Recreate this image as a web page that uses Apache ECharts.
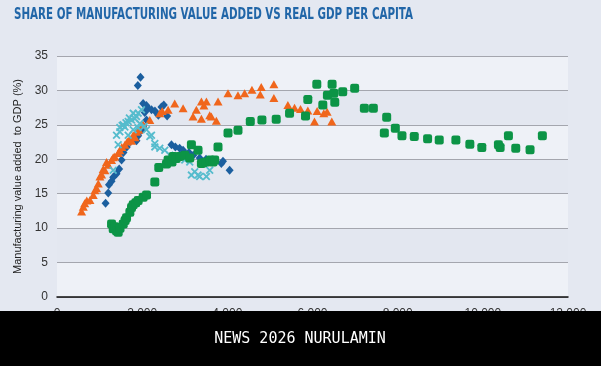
<!DOCTYPE html>
<html>
<head>
<meta charset="utf-8">
<script src="https://cdn.jsdelivr.net/npm/echarts@6/dist/echarts.min.js"></script>
<style>
  html, body { margin: 0; padding: 0; background: #e4e8f1; }
  #chart { width: 601px; height: 366px; }
</style>
</head>
<body>
<div id="chart"></div>
<script>
// ---- Data ----
const titleText = 'SHARE OF MANUFACTURING VALUE ADDED VS REAL GDP PER CAPITA';
const yAxisTitle = 'Manufacturing value added  to GDP (%)';
const footerText = 'NEWS 2026 NURULAMIN';
const xTicks = [0, 2000, 4000, 6000, 8000, 10000, 12000];
const yTicks = [0, 5, 10, 15, 20, 25, 30, 35];

// dark blue diamonds
const seriesDiamond = [
  [1141,13.6],[1203,15.1],[1220,16.3],[1281,16.8],[1320,17.4],[1398,17.9],[1460,18.6],[1516,19.9],
  [1560,21.0],[1640,21.8],[1720,22.6],[1867,22.7],[1906,23.4],[1980,24.2],[2023,24.8],[2102,25.7],
  [2060,26.8],[2140,27.4],[2219,27.2],[2023,28.1],[2100,27.8],[2300,27.0],[2380,26.4],[2453,27.6],
  [2508,27.9],[2586,26.3],[1898,30.7],[1961,31.9],[2688,22.1],[2780,21.8],[2880,21.6],[2961,21.3],
  [3100,21.0],[3200,20.6],[3350,20.2],[3500,20.0],[3650,19.8],[3859,19.4],[3898,19.7],[4054,18.4]
];
// orange triangles
const seriesTriangle = [
  [578,12.4],[617,13.1],[650,13.6],[700,14.0],[773,14.1],[852,14.8],[890,15.5],[930,15.8],
  [969,16.5],[1008,17.5],[1047,17.8],[1086,18.6],[1125,18.4],[1164,19.6],[1203,19.2],[1281,19.9],
  [1320,20.3],[1359,20.4],[1437,20.9],[1476,21.3],[1520,21.8],[1594,22.1],[1650,22.6],[1711,23.0],
  [1750,22.7],[1789,23.5],[1830,23.2],[1867,24.0],[1920,24.3],[2023,25.0],[2180,25.7],[2414,26.7],
  [2470,27.0],[2609,27.2],[2765,28.1],[2961,27.4],[3195,26.2],[3273,27.2],[3391,28.4],[3391,25.9],
  [3450,27.8],[3508,28.4],[3586,26.4],[3625,26.2],[3742,25.6],[3781,28.4],[4016,29.6],[4250,29.3],
  [4406,29.6],[4578,30.1],[4797,30.5],[4773,29.4],[5093,30.9],[5093,28.9],[5421,27.9],[5578,27.5],
  [5718,27.3],[5890,27.1],[6046,25.5],[6109,27.0],[6265,26.7],[6343,26.9],[6453,25.5]
];
// light blue crosses
const seriesCross = [
  [1320,18.4],[1398,23.5],[1437,22.1],[1476,24.0],[1476,24.6],[1530,24.9],[1555,25.0],[1594,24.7],
  [1620,25.3],[1672,23.5],[1672,25.5],[1700,26.0],[1750,25.7],[1789,24.3],[1789,26.7],[1828,25.9],
  [1867,26.2],[1906,26.7],[1945,25.2],[1984,27.2],[1900,24.6],[2050,24.8],[2102,24.3],[2180,23.3],
  [2219,23.5],[2297,22.3],[2297,21.8],[2414,21.6],[2531,21.3],[2648,20.6],[2800,20.3],[3000,19.9],
  [3117,19.6],[3156,17.7],[3234,18.2],[3312,17.7],[3351,17.5],[3508,17.5],[3586,18.4]
];
// green squares
const seriesSquare = [
  [1281,10.6],[1320,9.9],[1359,10.2],[1400,9.6],[1437,9.4],[1480,10.0],[1555,10.6],[1600,11.1],
  [1633,11.5],[1711,12.3],[1750,13.0],[1789,13.4],[1850,13.7],[1906,14.0],[2023,14.5],[2102,14.8],
  [2297,16.7],[2390,18.8],[2570,19.3],[2609,19.9],[2700,19.6],[2727,20.4],[2800,20.1],[2883,20.4],
  [3000,20.6],[3117,20.2],[3156,22.1],[3312,21.3],[3391,19.4],[3430,19.5],[3508,19.6],[3600,19.9],
  [3664,19.6],[3703,19.9],[3781,21.8],[4016,23.8],[4250,24.2],[4539,25.5],[4812,25.7],[5148,25.8],
  [5461,26.7],[5836,26.3],[5890,28.7],[6101,30.9],[6242,27.9],[6350,29.3],[6460,30.9],[6500,29.6],
  [6523,28.3],[6710,29.8],[6990,30.3],[7218,27.4],[7429,27.4],[7687,23.8],[7742,26.1],[7945,24.5],
  [8101,23.4],[8390,23.3],[8703,23.0],[8976,22.8],[9367,22.8],[9695,22.2],[9976,21.7],[10366,22.1],
  [10406,21.7],[10601,23.4],[10773,21.6],[11109,21.4],[11398,23.4]
];

// ---- Styling / layout ----
const crossPath = 'path://M0,1.6 L1.6,0 L5,3.4 L8.4,0 L10,1.6 L6.6,5 L10,8.4 L8.4,10 L5,6.6 L1.6,10 L0,8.4 L3.4,5 Z';

// measure title to fit its width
const titleFont = 'bold 16px "Liberation Sans Narrow", "DejaVu Sans Condensed", "Liberation Sans", sans-serif';
const mctx = document.createElement('canvas').getContext('2d');
mctx.font = titleFont;
const titleW = mctx.measureText(titleText).width || 400;
const titleScale = 399 / titleW;

const chart = echarts.init(document.getElementById('chart'), null, { renderer: 'canvas' });
chart.setOption({
  backgroundColor: '#e4e8f1',
  animation: false,
  grid: { left: 57, right: 33, top: 56, bottom: 69, containLabel: false },
  xAxis: {
    type: 'value',
    min: xTicks[0], max: xTicks[xTicks.length - 1], interval: 2000,
    axisLine: { show: true, lineStyle: { color: '#111', width: 1.5 } },
    axisTick: { show: false },
    splitLine: { show: false },
    axisLabel: { margin: 11, fontSize: 12, color: '#333', fontFamily: 'Liberation Sans, sans-serif' }
  },
  yAxis: {
    type: 'value',
    min: yTicks[0], max: yTicks[yTicks.length - 1], interval: 5,
    name: yAxisTitle,
    nameLocation: 'middle',
    nameGap: 32,
    nameTextStyle: { fontSize: 11, color: '#222', fontFamily: 'Liberation Sans, sans-serif' },
    axisLine: { show: false },
    axisTick: { show: false },
    axisLabel: { margin: 9, fontSize: 12, color: '#333', fontFamily: 'Liberation Sans, sans-serif' },
    splitLine: { show: true, lineStyle: { color: '#a4a6ae', width: 1 } },
    splitArea: { show: true, areaStyle: { color: ['#eef1f7', '#e3e7f0'] } }
  },
  series: [
    { name: 'Series 1', type: 'scatter', data: seriesDiamond, symbol: 'diamond', symbolSize: [8, 9],
      itemStyle: { color: '#1b5f9f', opacity: 1 } },
    { name: 'Series 2', type: 'scatter', data: seriesTriangle, symbol: 'triangle', symbolSize: [9, 8],
      itemStyle: { color: '#f0661c', opacity: 1 } },
    { name: 'Series 3', type: 'scatter', data: seriesCross, symbol: crossPath, symbolSize: 8,
      itemStyle: { color: '#55bccd', opacity: 1 } },
    { name: 'Series 4', type: 'scatter', data: seriesSquare, symbol: 'roundRect', symbolSize: 9,
      itemStyle: { color: '#0c9446', opacity: 1 } }
  ],
  graphic: [
    { type: 'text', x: 14, y: 7, scaleX: titleScale, scaleY: 1,
      style: { text: titleText, font: titleFont, fill: '#2166a8', textVerticalAlign: 'top' } },
    { type: 'rect', z: 100, shape: { x: 0, y: 311, width: 601, height: 55 }, style: { fill: '#000' } },
    { type: 'text', z: 101, x: 300, y: 339,
      style: { text: footerText, font: '15px "DejaVu Sans Mono", monospace', fill: '#fff',
               textAlign: 'center', textVerticalAlign: 'middle' } }
  ]
});
</script>
</body>
</html>
